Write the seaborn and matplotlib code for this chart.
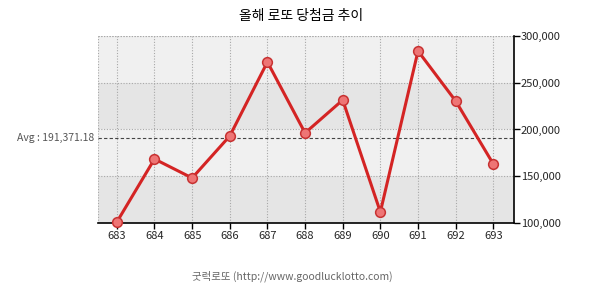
import matplotlib
matplotlib.use("Agg")
import matplotlib.pyplot as plt
import seaborn as sns
import pandas as pd
from matplotlib.ticker import FuncFormatter

rounds = [683, 684, 685, 686, 687, 688, 689, 690, 691, 692, 693]
prizes = [101000, 168450, 148130, 193050, 272200, 196300, 231550, 111770, 283950, 230500, 163100]
avg_value = 191371.18
y_ticks = [100000, 150000, 200000, 250000, 300000]

sns.set_theme(style="white")
plt.rcParams['font.family'] = ['Noto Sans CJK KR', 'DejaVu Sans']

df = pd.DataFrame({"round": rounds, "prize": prizes})

fig = plt.figure(figsize=(6.05, 2.91), dpi=100)
ax = fig.add_axes([0.162, 0.2337, 0.6876, 0.6426])

# alternating bands
for i in range(len(y_ticks) - 1):
    ax.axhspan(y_ticks[i], y_ticks[i + 1], color="#e5e5e5" if i % 2 == 0 else "#f0f0f0", zorder=0, lw=0)

ax.set_xlim(682.5, 693.55)
ax.set_ylim(100000, 300000)

for r in rounds:
    ax.axvline(r, color="#a8a8a8", lw=0.8, ls=(0, (1, 1.5)), zorder=1)
for t in y_ticks[1:]:
    ax.axhline(t, color="#a8a8a8", lw=0.8, ls=(0, (1, 1.5)), zorder=1)

ax.axhline(avg_value, color="#444444", lw=0.8, ls=(0, (3, 2)), zorder=2)

sns.lineplot(data=df, x="round", y="prize", ax=ax, color="#d42424", lw=2.2,
             marker="o", markersize=7, markerfacecolor="#ee7575",
             markeredgecolor="#c83232", markeredgewidth=1.1, zorder=5, clip_on=False)

ax.yaxis.tick_right()
ax.set_yticks(y_ticks)
ax.yaxis.set_major_formatter(FuncFormatter(lambda v, p: f"{int(v):,}"))
ax.set_xticks(rounds)
ax.set_xticklabels([str(r) for r in rounds])
ax.tick_params(axis="y", which="both", right=True, left=False, length=4, width=1, color="black",
               labelsize=8, pad=1)
ax.tick_params(axis="x", bottom=True, length=4, width=1, color="black", labelsize=8, pad=2)
ax.set_xlabel("")
ax.set_ylabel("")

for s in ["left", "top"]:
    ax.spines[s].set_visible(False)
for s in ["right", "bottom"]:
    ax.spines[s].set_visible(True)
    ax.spines[s].set_color("black")
    ax.spines[s].set_linewidth(1.2)
ax.axhline(300000, color="#a8a8a8", lw=0.8, ls=(0, (1, 1.5)), zorder=1)
ax.axvline(682.5, color="#a8a8a8", lw=0.8, ls=(0, (1, 1.5)), zorder=1)

ax.text(-0.01, avg_value, "Avg : 191,371.18", transform=ax.get_yaxis_transform(),
        ha="right", va="center", fontsize=7.5, color="#555555")

fig.text(0.497, 0.945, "올해 로또 당첨금 추이", ha="center", va="center", fontsize=10, color="black")
fig.text(0.483, 0.05, "굿럭로또 (http://www.goodlucklotto.com)", ha="center", va="center",
         fontsize=7.5, color="#666666")

fig.savefig("out.png", dpi=100)
